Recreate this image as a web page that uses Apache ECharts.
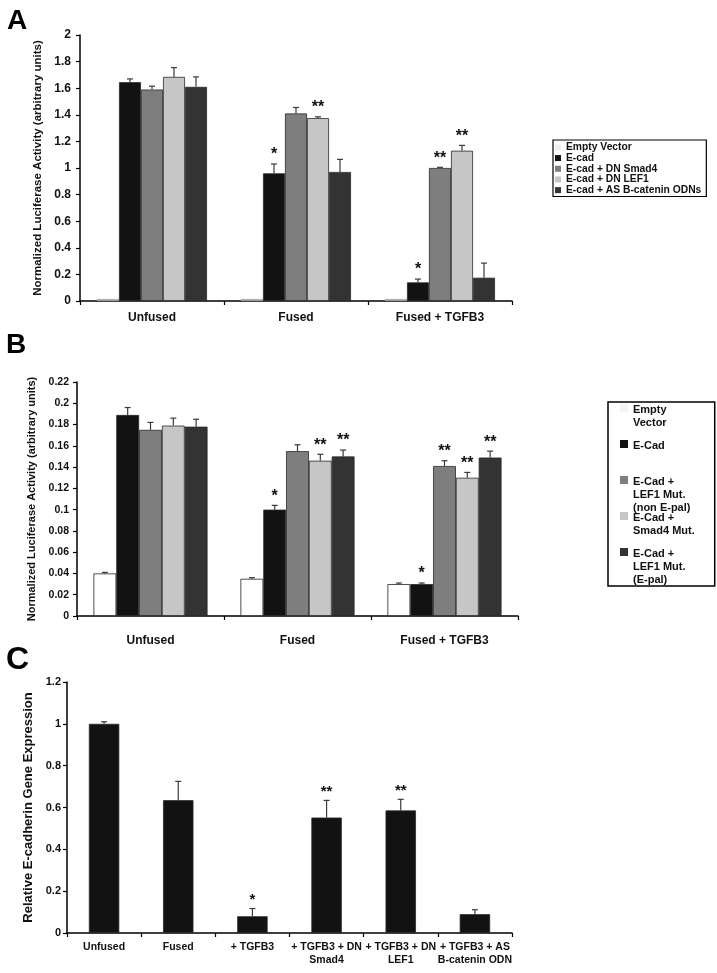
<!DOCTYPE html>
<html><head><meta charset="utf-8">
<script src="https://cdn.jsdelivr.net/npm/echarts@6/dist/echarts.min.js"></script>
<style>html,body{margin:0;padding:0;background:#fff}#c{width:717px;height:973px}</style>
</head><body><div id="c"></div>
<script>
// ---------- Panel A ----------
const catsA = ['Unfused', 'Fused', 'Fused + TGFB3'];
const namesA = ['Empty Vector', 'E-cad', 'E-cad + DN Smad4', 'E-cad + DN LEF1', 'E-cad + AS B-catenin ODNs'];
const emptyA = [0.015, 0.015, 0.015];
const ecadA  = [1.645, 0.96, 0.14];
const smadA  = [1.59, 1.41, 1.0];
const lefA   = [1.685, 1.375, 1.13];
const asA    = [1.61, 0.97, 0.175];
const errEmptyA = [0, 0, 0];
const errEcadA  = [0.025, 0.07, 0.025];
const errSmadA  = [0.025, 0.045, 0.005];
const errLefA   = [0.07, 0.01, 0.04];
const errAsA    = [0.075, 0.095, 0.11];
const starsEmptyA = ['', '', ''];
const starsEcadA  = ['', '*', '*'];
const starsSmadA  = ['', '', '**'];
const starsLefA   = ['', '**', '**'];
const starsAsA    = ['', '', ''];
const yTitleA = 'Normalized Luciferase Activity (arbitrary units)';

// ---------- Panel B ----------
const catsB = ['Unfused', 'Fused', 'Fused + TGFB3'];
const namesB = ['Empty Vector', 'E-Cad', 'E-Cad + LEF1 Mut. (non E-pal)', 'E-Cad + Smad4 Mut.', 'E-Cad + LEF1 Mut. (E-pal)'];
const legendLabelsB = ['Empty\nVector\n ', 'E-Cad\n \n ', 'E-Cad +\nLEF1 Mut.\n(non E-pal)', 'E-Cad +\nSmad4 Mut.\n ', 'E-Cad +\nLEF1 Mut.\n(E-pal)'];
const emptyB   = [0.040, 0.035, 0.030];
const ecadB    = [0.189, 0.100, 0.030];
const nonEpalB = [0.175, 0.155, 0.141];
const smadMutB = [0.179, 0.146, 0.130];
const epalB    = [0.178, 0.150, 0.149];
const errEmptyB   = [0.001, 0.001, 0.001];
const errEcadB    = [0.007, 0.004, 0.001];
const errNonEpalB = [0.007, 0.006, 0.005];
const errSmadMutB = [0.007, 0.006, 0.005];
const errEpalB    = [0.007, 0.006, 0.006];
const starsEmptyB   = ['', '', ''];
const starsEcadB    = ['', '*', '*'];
const starsNonEpalB = ['', '', '**'];
const starsSmadMutB = ['', '**', '**'];
const starsEpalB    = ['', '**', '**'];
const yTitleB = 'Normalized Luciferase Activity (arbitrary units)';

// ---------- Panel C ----------
const catsC = ['Unfused', 'Fused', '+ TGFB3', '+ TGFB3 + DN\nSmad4', '+ TGFB3 + DN\nLEF1', '+ TGFB3 + AS\nB-catenin ODN'];
const valsC = [1.0, 0.635, 0.08, 0.552, 0.586, 0.09];
const errC  = [0.01, 0.09, 0.037, 0.082, 0.053, 0.021];
const starsC = ['', '', '*', '**', '**', ''];
const yTitleC = 'Relative E-cadherin Gene Expression';

const FONT = 'Liberation Sans, Arial, sans-serif';
const colorsA = ['#d6d6d6', '#121212', '#7e7e7e', '#c6c6c6', '#333333'];
const colorsB = ['#ffffff', '#121212', '#7e7e7e', '#c6c6c6', '#333333'];
const gapA = 0.236, gapB = 0.224, gapC = 0.59;

function barSeries(name, axis, data, color, gap, border) {
  return {
    name: name, type: 'bar', xAxisIndex: axis, yAxisIndex: axis,
    data: data, barGap: '0%', barCategoryGap: (gap * 100) + '%',
    itemStyle: { color: color, borderColor: border || '#2a2a2a', borderWidth: 0.8 },
    emphasis: { disabled: true }
  };
}
function errSeries(axis, k, n, gap, vals, errs, stars, starSize) {
  return {
    type: 'custom', xAxisIndex: axis, yAxisIndex: axis, z: 10, silent: true,
    data: vals.map((v, i) => [i, v, v + errs[i]]),
    renderItem: function (params, api) {
      const c = api.value(0);
      const p0 = api.coord([c, api.value(1)]);
      const p1 = api.coord([c, api.value(2)]);
      const band = api.size([1, 0])[0];
      const gw = band * (1 - gap);
      const bw = gw / n;
      const x = p0[0] - gw / 2 + bw * (k + 0.5);
      const cap = 3;
      const children = [];
      if (p0[1] - p1[1] > 0.6) {
        children.push({ type: 'line', shape: { x1: x, y1: p0[1], x2: x, y2: p1[1] }, style: { stroke: '#3a3a3a', lineWidth: 1.2 } });
        children.push({ type: 'line', shape: { x1: x - cap, y1: p1[1], x2: x + cap, y2: p1[1] }, style: { stroke: '#3a3a3a', lineWidth: 1.2 } });
      }
      const s = stars[params.dataIndex];
      if (s) children.push({ type: 'text', style: { text: s, x: x, y: p1[1] - 1, align: 'center', verticalAlign: 'bottom', font: 'bold ' + starSize + 'px ' + FONT, fill: '#111' } });
      return { type: 'group', children: children };
    }
  };
}
function xAx(idx, cats, fs, margin) {
  return {
    type: 'category', gridIndex: idx, data: cats,
    axisLine: { lineStyle: { color: '#000', width: 1.5 } },
    axisTick: { show: true, length: 4, lineStyle: { color: '#000', width: 1.2 } },
    axisLabel: { color: '#111', fontWeight: 'bold', fontSize: fs, fontFamily: FONT, margin: margin, interval: 0, lineHeight: fs + 3 }
  };
}
function yAx(idx, max, interval, fs, margin, title, tfs, gapN) {
  return {
    type: 'value', gridIndex: idx, min: 0, max: max, interval: interval,
    splitLine: { show: false },
    axisLine: { show: true, lineStyle: { color: '#000', width: 1.5 } },
    axisTick: { show: true, length: 4, lineStyle: { color: '#000', width: 1.2 } },
    axisLabel: { color: '#111', fontWeight: 'bold', fontSize: fs, fontFamily: FONT, margin: margin },
    name: title, nameLocation: 'middle', nameGap: gapN,
    nameTextStyle: { color: '#111', fontWeight: 'bold', fontSize: tfs, fontFamily: FONT }
  };
}

const series = [];
const seriesA = [emptyA, ecadA, smadA, lefA, asA];
const errsA = [errEmptyA, errEcadA, errSmadA, errLefA, errAsA];
const starsA = [starsEmptyA, starsEcadA, starsSmadA, starsLefA, starsAsA];
seriesA.forEach((d, k) => series.push(barSeries(namesA[k], 0, d, colorsA[k], gapA, k === 0 ? '#9a9a9a' : null)));
seriesA.forEach((d, k) => series.push(errSeries(0, k, 5, gapA, d, errsA[k], starsA[k], 16)));

const seriesB = [emptyB, ecadB, nonEpalB, smadMutB, epalB];
const errsB = [errEmptyB, errEcadB, errNonEpalB, errSmadMutB, errEpalB];
const starsB = [starsEmptyB, starsEcadB, starsNonEpalB, starsSmadMutB, starsEpalB];
seriesB.forEach((d, k) => series.push(barSeries(namesB[k], 1, d, colorsB[k], gapB, k === 0 ? '#222' : null)));
seriesB.forEach((d, k) => series.push(errSeries(1, k, 5, gapB, d, errsB[k], starsB[k], 16)));

series.push(barSeries('E-cadherin', 2, valsC, '#121212', gapC));
series.push(errSeries(2, 0, 1, gapC, valsC, errC, starsC, 15));

const iconB = 'path://M0,2L8,2L8,10L0,10Z M0,39L0.001,39L0,39Z';

const option = {
  animation: false,
  backgroundColor: '#fff',
  grid: [
    { left: 80, top: 35, width: 432, height: 266 },
    { left: 77, top: 382, width: 441, height: 234 },
    { left: 67, top: 682, width: 445, height: 251 }
  ],
  xAxis: [xAx(0, catsA, 12, 9), xAx(1, catsB, 12, 17), xAx(2, catsC, 10.5, 7)],
  yAxis: [
    yAx(0, 2, 0.2, 12, 9, yTitleA, 11.5, 36),
    yAx(1, 0.22, 0.02, 10.5, 8, yTitleB, 11, 34),
    yAx(2, 1.2, 0.2, 11, 6, yTitleC, 13, 28)
  ],
  legend: [
    {
      orient: 'vertical', left: 553, top: 140, icon: 'rect',
      data: namesA.map((n, k) => ({ name: n, itemStyle: { color: k === 0 ? '#eeeeee' : colorsA[k], borderWidth: 0 } })),
      itemWidth: 6, itemHeight: 6, itemGap: 0,
      padding: [2, 5, 1, 2],
      borderColor: '#000', borderWidth: 1.2,
      textStyle: { color: '#111', fontWeight: 'bold', fontSize: 10.3, fontFamily: FONT, lineHeight: 10.7 },
      selectedMode: false
    },
    {
      orient: 'vertical', left: 608, top: 402, icon: iconB,
      data: namesB.map((n, k) => ({ name: n, itemStyle: { color: k === 0 ? '#f4f4f4' : colorsB[k], borderWidth: 0 } })),
      formatter: function (name) { return legendLabelsB[namesB.indexOf(name)]; },
      itemWidth: 8, itemHeight: 39, itemGap: -3,
      padding: [1, 20, 0, 12],
      borderColor: '#000', borderWidth: 1.5,
      textStyle: { color: '#111', fontWeight: 'bold', fontSize: 11, fontFamily: FONT, lineHeight: 13 },
      selectedMode: false
    }
  ],
  graphic: [
    { type: 'text', left: 7, top: 7, style: { text: 'A', font: 'bold 28px ' + FONT, fill: '#000' } },
    { type: 'text', left: 6, top: 331, style: { text: 'B', font: 'bold 28px ' + FONT, fill: '#000' } },
    { type: 'text', left: 6, top: 644, style: { text: 'C', font: 'bold 32px ' + FONT, fill: '#000' } }
  ],
  series: series
};
const chart = echarts.init(document.getElementById('c'), null, { renderer: 'canvas' });
chart.setOption(option);
</script>
</body></html>
